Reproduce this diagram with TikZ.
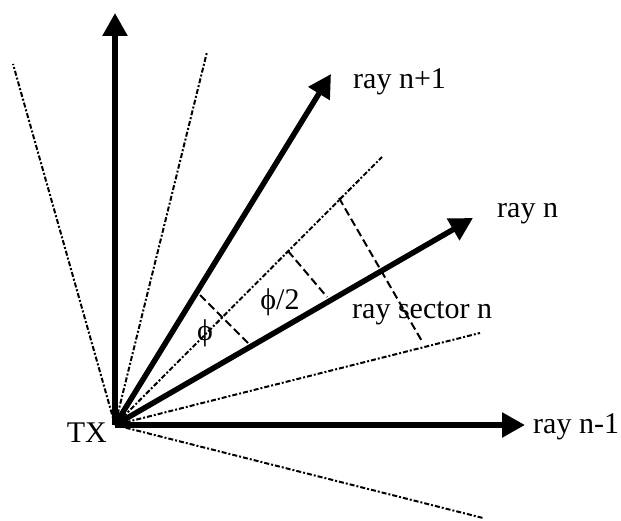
\documentclass[tikz,border=0pt]{standalone}
\usepackage{fontspec}
\setmainfont{Liberation Serif}
\usetikzlibrary{arrows.meta}
\begin{document}
\begin{tikzpicture}[x=1pt,y=-1pt,
  ray/.style={line width=5.5pt,-{Triangle[length=23pt,width=24pt]}},
  bound/.style={line width=2pt,dash pattern=on 5pt off 2pt on 2pt off 2pt},
  chord/.style={line width=2pt,dash pattern=on 8pt off 4pt},
  lbl/.style={font=\fontsize{30}{33}\selectfont,inner sep=0pt}]
\useasboundingbox (0,0) rectangle (621,521);
% origin and tips
\coordinate (O) at (115,425);
\coordinate (tUp) at (115,13);
\coordinate (tN1) at (331,74);
\coordinate (tN) at (473,218);
\coordinate (tNm) at (525,425);
% sector boundaries
\coordinate (b1) at (13,64);
\coordinate (b2) at (207,52);
\coordinate (b3) at (382,157);
\coordinate (b4) at (480,333);
\coordinate (b5) at (483,518);
\foreach \b in {b1,b2,b3,b4,b5} \draw[bound] (O) -- (\b);
% chords
\coordinate (c1a) at (200,295); \coordinate (c1b) at (248,343);
\coordinate (c2a) at (288,251); \coordinate (c2b) at (327,297);
\coordinate (c3a) at (339,198); \coordinate (c3b) at (423,343);
\draw[chord] (c1a) -- (c1b);
\draw[chord] (c2a) -- (c2b);
\draw[chord] (c3a) -- (c3b);
% rays
\draw[ray] (O) -- (tUp);
\draw[ray] (O) -- (tN1);
\draw[ray] (O) -- (tN);
\draw[ray] (O) -- (tNm);
% labels
\node[lbl,anchor=base west] (lN1) at (353,89) {ray n+1};
\node[lbl,anchor=base west] (lN) at (497,218) {ray n};
\node[lbl,anchor=base west] (lNm) at (533,433) {ray n-1};
\node[lbl,anchor=base east] (lTX) at (107,442) {TX};
\node[lbl,anchor=base west] (lS) at (352,318) {ray sector n};
\node[lbl] (lphi) at (205,333) {ϕ};
\node[lbl] (lphi2) at (280,302) {ϕ/2};
\end{tikzpicture}
\end{document}
